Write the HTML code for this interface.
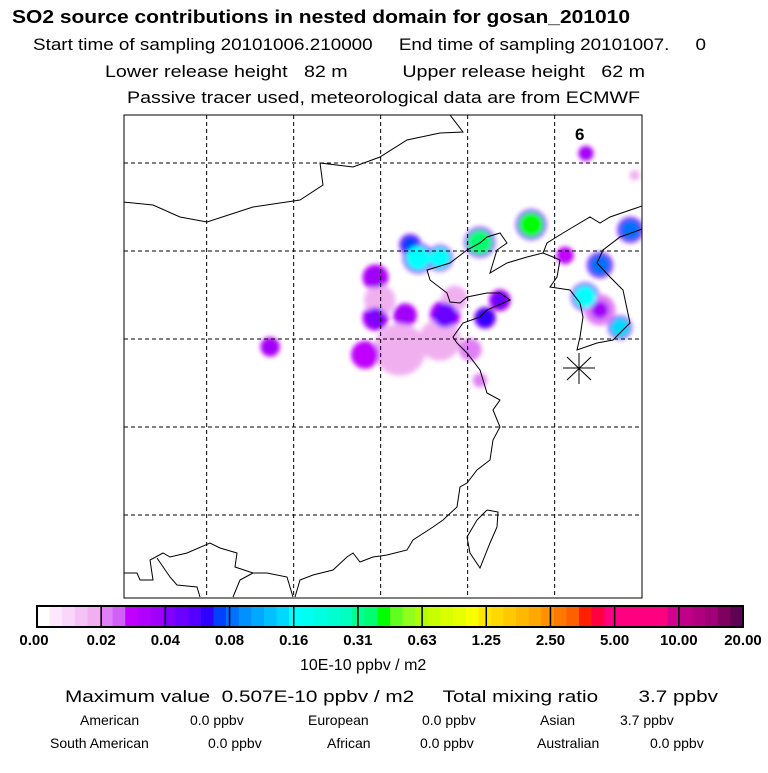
<!DOCTYPE html>
<html><head><meta charset="utf-8"><style>
body{margin:0;background:#fff;width:768px;height:768px;overflow:hidden;font-family:"Liberation Sans",sans-serif}
</style></head><body>
<svg id="c" width="768" height="768" viewBox="0 0 768 768" xmlns="http://www.w3.org/2000/svg" font-family="Liberation Sans, sans-serif">
<defs>
<filter id="bl" x="-50%" y="-50%" width="200%" height="200%"><feGaussianBlur stdDeviation="2.5"/></filter>
<clipPath id="mc"><rect x="124" y="115" width="518" height="483"/></clipPath>
</defs>
<text x="12" y="23" font-size="18" font-weight="bold" textLength="618" lengthAdjust="spacingAndGlyphs">SO2 source contributions in nested domain for gosan_201010</text>
<text x="33" y="50" font-size="17" textLength="673" lengthAdjust="spacingAndGlyphs" xml:space="preserve">Start time of sampling 20101006.210000     End time of sampling 20101007.     0</text>
<text x="105" y="77" font-size="17" textLength="540" lengthAdjust="spacingAndGlyphs" xml:space="preserve">Lower release height   82 m          Upper release height   62 m</text>
<text x="127" y="103" font-size="17" textLength="513" lengthAdjust="spacingAndGlyphs">Passive tracer used, meteorological data are from ECMWF</text>
<g id="map" clip-path="url(#mc)"></g>
<rect x="124" y="115" width="518" height="483" fill="none" stroke="#000" stroke-width="1"/>
<text x="575" y="140" font-size="17" font-weight="bold">6</text>
<g id="cb"></g>
<text x="300" y="670" font-size="16">10E-10 ppbv / m2</text>
<text x="65" y="702" font-size="17" textLength="653" lengthAdjust="spacingAndGlyphs" xml:space="preserve">Maximum value  0.507E-10 ppbv / m2     Total mixing ratio       3.7 ppbv</text>
<g font-size="14">
<text x="80" y="725">American</text><text x="190" y="725">0.0 ppbv</text>
<text x="308" y="725">European</text><text x="422" y="725">0.0 ppbv</text>
<text x="540" y="725">Asian</text><text x="620" y="725">3.7 ppbv</text>
<text x="50" y="748">South American</text><text x="208" y="748">0.0 ppbv</text>
<text x="327" y="748">African</text><text x="420" y="748">0.0 ppbv</text>
<text x="537" y="748">Australian</text><text x="650" y="748">0.0 ppbv</text>
</g>
</svg>
<script>
const NS='http://www.w3.org/2000/svg';
// colorbar data
const cbLabels=['0.00','0.02','0.04','0.08','0.16','0.31','0.63','1.25','2.50','5.00','10.00','20.00'];
const cbColors=['#ffffff','#fde8fd','#fad6fa','#f5c2f5','#f0b0f0','#e080f5','#d060f8','#c000ff','#b000ff','#a000f8',
'#8000ff','#6a00ff','#5500ff','#3000ff','#0040ff','#0070ff','#0090ff','#00a8ff','#00c0ff','#00d8ff',
'#00ffff','#00fff0','#00ffe0','#00ffd0','#00ffc0','#00ff90','#00ff70','#00ff00','#60ff20','#90ff20',
'#b0ff00','#c8ff00','#d8ff00','#e8ff00','#f8ff00','#ffe800','#ffd800','#ffc800','#ffb800','#ffa800',
'#ff9000','#ff7800','#ff6000','#ff2000','#ff0040','#ff0080','#ff0080','#ff0080','#ff0080','#ff0080',
'#d00090','#c00088','#b00080','#a00078','#800060','#600050'];
// plume data (map degrees) and concentration class
const plumeLon=[121.7,117.7,126.3,129.8,130.9,119.4,128.0,144.7,140.7,148.7, 118.9,118.9,122.3,126.9,133.2,131.5,106.8,144.7,143.1, 122.9,123.8,126.3,130.9,136.8,144.7,148.2,143.0,147.0];
const plumeLat=[33.8, 33.2, 34.9, 33.8, 30.3, 39.4, 39.6, 38.3, 44.5, 53.6,  42.0, 37.4, 37.7, 37.7, 39.4, 37.4, 34.1, 38.3, 56.1,  45.7, 44.2, 44.2, 46.0, 48.0, 43.4, 47.4, 39.8, 36.3];
const plumeR=  [3.0,  1.6,  2.4,  1.3,  0.8,  1.8,  1.5,  1.8,  1.0,  0.6,   1.2,  1.2,  1.1,  1.4,  1.0,  1.0,  0.9,  1.0,  0.7,   1.0,  1.4,  1.2,  1.4,  1.4,  1.2,  1.2,  1.3,  1.1];
const plumeCls=[0.4,  0.9,  0.4,  0.5,  0.6,  0.4,  0.3,  0.5,  0.9,  0.3,   1.4,  1.5,  1.3,  1.8,  1.7,  2.2,  1.4,  1.4,  1.3,   2.4,  3.6,  3.5,  4.8,  4.9,  2.5,  2.5,  3.6,  3.4];
const xS=d=>124+(d-90)*8.7;   // lon -> px
const yS=d=>163+(55-d)*8.8;   // lat -> px
const cls=c=>cbColors[Math.min(cbColors.length-1,Math.max(1,Math.round(c*5)+2))];
const map=document.getElementById('map');
function mk(t,a){const e=document.createElementNS(NS,t);for(const k in a)e.setAttribute(k,a[k]);return e;}
const pg=mk('g',{filter:'url(#bl)'});


map.appendChild(pg);
plumeLon.forEach((lo,i)=>{
  if(plumeCls[i]<1.2) return;
  const r=plumeR[i]*8.7;
  const h=mk('circle',{cx:xS(lo),cy:yS(plumeLat[i]),r:r*1.25,fill:cls(plumeCls[i]>2?1.6:1.0)});
  
  
  pg.appendChild(h);
});
plumeLon.forEach((lo,i)=>{
  const r=plumeR[i]*8.7;
  const c=mk('circle',{cx:xS(lo),cy:yS(plumeLat[i]),r:r,fill:cls(plumeCls[i])});
  
  
  pg.appendChild(c);
});
// grid
const gLon=[99.5,109.5,119.5,129.5,139.5];
const gLat=[55,45,35,25,15];
gLon.forEach(v=>{const l=mk('line',{x1:xS(v),x2:xS(v),y1:115,y2:598,stroke:'#000','stroke-dasharray':'4,3','stroke-width':1});

map.appendChild(l);});
gLat.forEach(v=>{const l=mk('line',{y1:yS(v),y2:yS(v),x1:124,x2:642,stroke:'#000','stroke-dasharray':'4,3','stroke-width':1});

map.appendChild(l);});
// coastlines (pixel outlines)
const coasts=[
'123,202 153,205 180,217 207,222 253,207 300,200 323,185 320,163 353,167 380,157 407,140 440,133 463,132 450,115',
'295,597 300,580 313,575 333,570 347,557 353,553 360,562 373,557 387,555 407,550 413,540 433,527 443,520 457,507 460,487 467,483 477,470 490,460 493,440 500,427 493,410 500,400 487,393 480,370 467,353 457,343 453,337 463,323 480,317 487,310 510,300 500,293 487,293 467,297 460,303 450,302 447,293 430,280 427,270 437,267 450,263 467,250 480,243 487,237 500,233 507,243 497,250 493,263 490,273 507,263 527,257 543,253 547,243 563,233 590,217 600,223 610,217 645,205',
'543,253 553,257 560,260 557,277 550,287 570,290 580,303 583,317 580,337 577,350 597,343 613,340 630,323 623,290 610,277 597,263 603,250 620,237 645,228',
'487,510 498,512 497,527 490,543 480,568 470,553 467,537 477,520 487,510',
'123,573 137,573 140,580 153,580 150,560 163,553 170,557 187,553 210,543 220,548 237,553 235,567 253,573 267,573 287,577 293,597',
'157,558 170,577 177,585 197,587 200,597','233,597 240,580 253,573'];
coasts.forEach(p=>{const e=mk('polyline',{points:p,fill:'none',stroke:'#000','stroke-width':1});

map.appendChild(e);});
// receptor star
const st=mk('g',{stroke:'#000','stroke-width':1});


[[567,357,591,380],[567,380,591,357],[579,353,579,384],[563,368,595,368]].forEach(a=>st.appendChild(mk('line',{x1:a[0],y1:a[1],x2:a[2],y2:a[3]})));
map.appendChild(st);
// colorbar
const cb=document.getElementById('cb');
const x0=37,x1=743,y0=606,y1=627,n=cbColors.length;
const sw=(x1-x0)/n;
cbColors.forEach((c,i)=>{const r=mk('rect',{x:x0+i*sw,y:y0,width:sw+0.5,height:y1-y0,fill:c});

cb.appendChild(r);});
const bw=(x1-x0)/(cbLabels.length-1);
cbLabels.forEach((t,i)=>{
  const x=x0+i*bw;
  if(i>0&&i<cbLabels.length-1){const l=mk('line',{x1:x,x2:x,y1:y0,y2:y1,stroke:'#000','stroke-width':1.5});
  
  cb.appendChild(l);}
  const tx=mk('text',{x:i==0?x-3:x,y:645,'font-size':15,'font-weight':'bold','text-anchor':'middle'});
  tx.textContent=t;
  
  cb.appendChild(tx);
});
const fr=mk('rect',{x:x0,y:y0,width:x1-x0,height:y1-y0,fill:'none',stroke:'#000','stroke-width':2});

cb.appendChild(fr);
</script>
</body></html>
